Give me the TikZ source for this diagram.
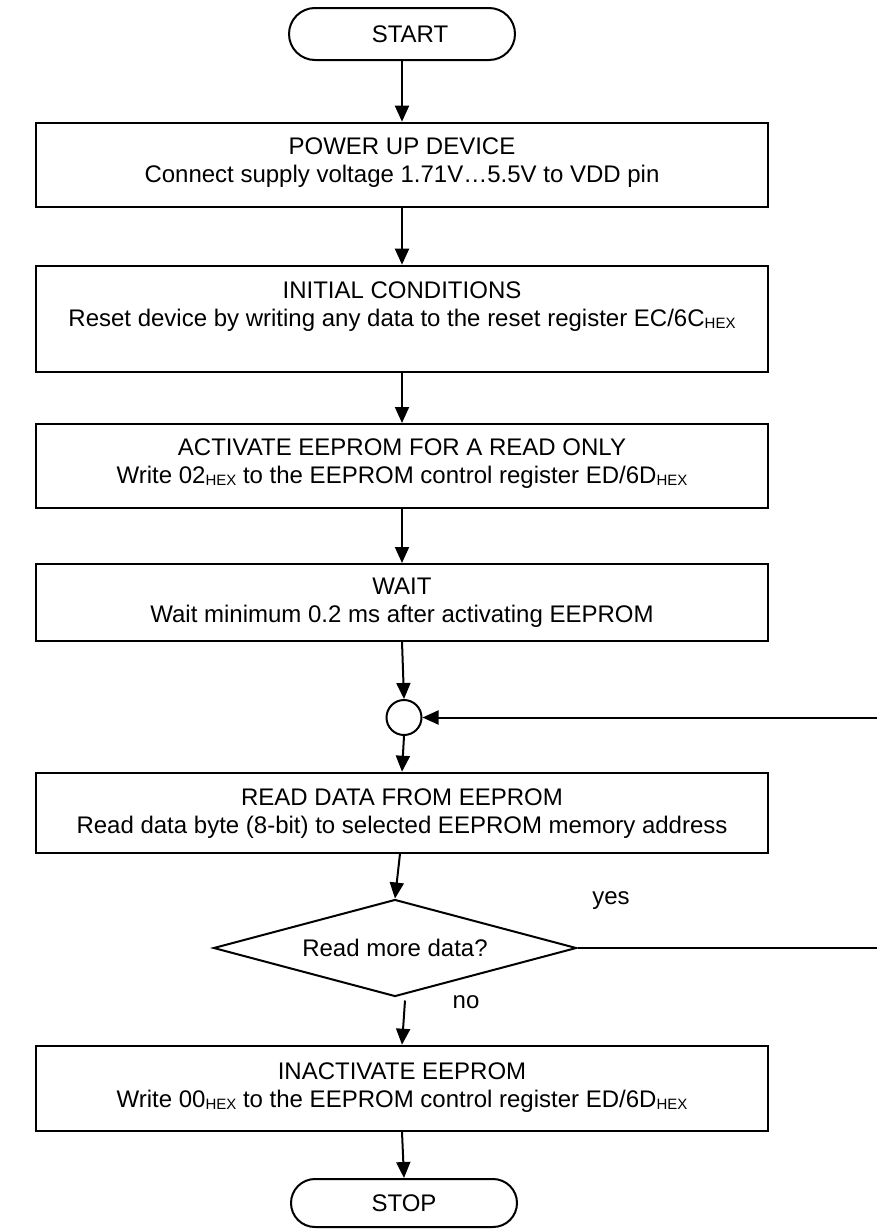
\documentclass[tikz,border=0pt]{standalone}
\usepackage{fontspec}
\setmainfont{Liberation Sans}
\usetikzlibrary{shapes.geometric,shapes.misc,arrows.meta}
\newcommand{\hexs}{\raisebox{-2pt}{\fontsize{15}{15}\selectfont HEX}}
\begin{document}
\begin{tikzpicture}[x=1pt,y=-1pt,line width=2pt,
  every node/.style={font=\fontsize{24}{28}\selectfont,inner sep=0pt},
  box/.style={draw,rectangle,minimum width=732pt},
  term/.style={draw,rounded rectangle,minimum width=226pt},
  txt/.style={anchor=base},
  arr/.style={-{Triangle[length=16pt,width=14pt]}}]
\useasboundingbox (0,0) rectangle (877,1229);
% terminators
\node[term,minimum height=52pt] (start) at (402,34) {};
\node[txt] (startt) at (410,42.5) {START};
\node[term,minimum height=48pt] (stop) at (404,1203) {};
\node[txt] (stopt) at (404,1211.5) {STOP};
% boxes
\node[box,minimum height=84.6pt] (b1) at (402,165) {};
\node[txt] (b1a) at (402,154) {POWER UP DEVICE};
\node[txt] (b1b) at (402,182) {Connect supply voltage 1.71V…5.5V to VDD pin};
\node[box,minimum height=106pt] (b2) at (402,318.7) {};
\node[txt] (b2a) at (402,298) {INITIAL CONDITIONS};
\node[txt] (b2b) at (402,326) {Reset device by writing any data to the reset register EC/6C\hexs};
\node[box,minimum height=84.3pt] (b3) at (402,466.15) {};
\node[txt] (b3a) at (402,455) {ACTIVATE EEPROM FOR A READ ONLY};
\node[txt] (b3b) at (402,483) {Write 02\hexs{} to the EEPROM control register ED/6D\hexs};
\node[box,minimum height=76.7pt] (b4) at (402,602.35) {};
\node[txt] (b4a) at (402,594.7) {WAIT};
\node[txt] (b4b) at (402,622.7) {Wait minimum 0.2 ms after activating EEPROM};
\node[draw,circle,minimum size=35pt] (c) at (404,717.5) {};
\node[box,minimum height=80pt] (b5) at (402,812.7) {};
\node[txt] (b5a) at (402,805.5) {READ DATA FROM EEPROM};
\node[txt] (b5b) at (402,833) {Read data byte (8-bit) to selected EEPROM memory address};
\node[draw,diamond,shape aspect=3.74,minimum width=363pt,minimum height=97pt] (d) at (395,948) {Read more data?};
\node[txt] (yes) at (611,904) {yes};
\node[txt] (no) at (466,1008) {no};
\node[box,minimum height=85.3pt] (b6) at (402,1088.35) {};
\node[txt] (b6a) at (402,1079) {INACTIVATE EEPROM};
\node[txt] (b6b) at (402,1107) {Write 00\hexs{} to the EEPROM control register ED/6D\hexs};
% connectors
\coordinate (r1) at (880,948);
\draw[arr] (start.south) -- (b1.north);
\draw[arr] (b1.south) -- (b2.north);
\draw[arr] (b2.south) -- (b3.north);
\draw[arr] (b3.south) -- (b4.north);
\draw[arr] (b4.south) -- (c.north);
\draw[arr] (c.south) -- (b5.north);
\draw[arr] ([xshift=-2pt]b5.south) -- (d.north);
\draw[arr] ([xshift=10pt,yshift=-3pt]d.south) -- (b6.north);
\draw[arr] (b6.south) -- (stop.north);
\draw[arr] (d.east) -- (r1) -- (r1 |- c.east) -- (c.east);
\end{tikzpicture}
\end{document}
